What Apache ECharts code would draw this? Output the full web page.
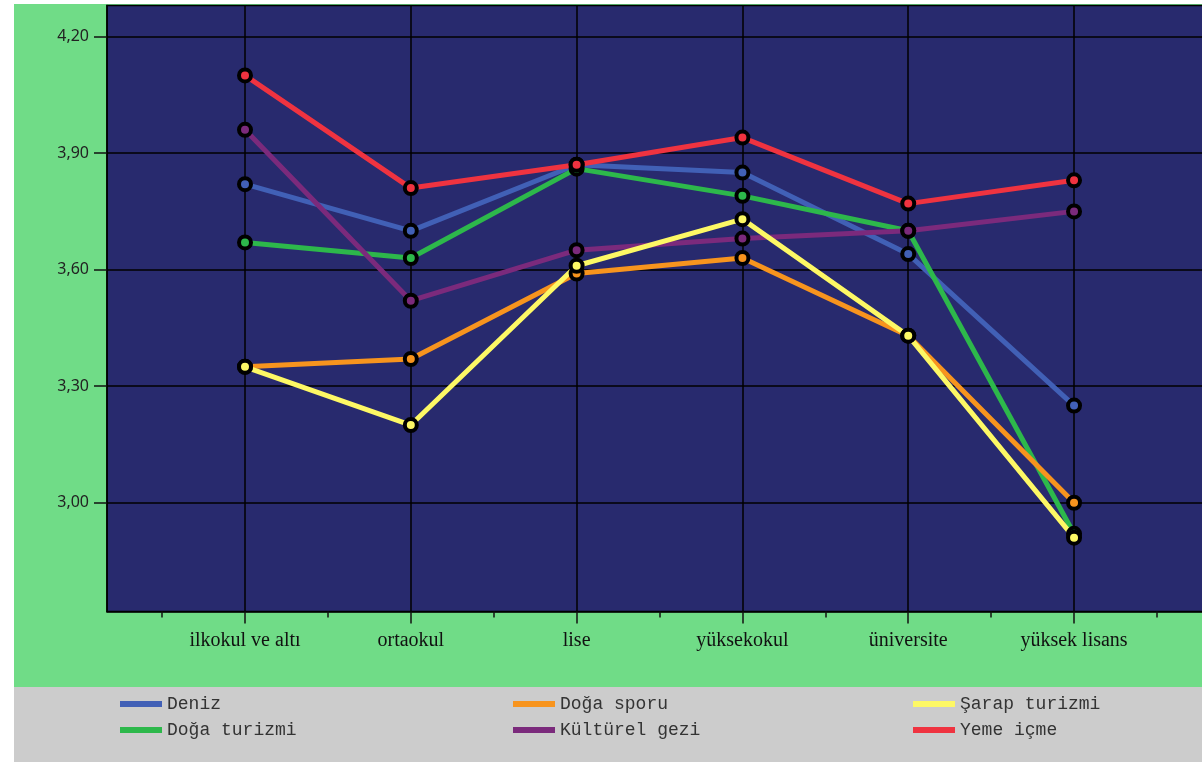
<!DOCTYPE html>
<html>
<head>
<meta charset="utf-8">
<script src="https://cdn.jsdelivr.net/npm/echarts@6/dist/echarts.min.js"></script>
<style>
html,body{margin:0;padding:0;background:#ffffff;overflow:hidden;}
#wrap{position:relative;width:1202px;height:762px;overflow:hidden;background:#ffffff;}
#green{position:absolute;left:14px;top:4px;width:1188px;height:683px;background:#70dc87;}
#gray{position:absolute;left:14px;top:687px;width:1188px;height:75px;background:#cccccc;}
#chart{position:absolute;left:0;top:0;width:1220px;height:762px;}
</style>
</head>
<body>
<div id="wrap">
<div id="green"></div>
<div id="gray"></div>
<div id="chart"></div>
</div>
<script>
// ---- data ----
const categories = ['ilkokul ve altı', 'ortaokul', 'lise', 'yüksekokul', 'üniversite', 'yüksek lisans'];
const yTicks = [3.00, 3.30, 3.60, 3.90, 4.20];
const deniz        = [3.82, 3.70, 3.87, 3.85, 3.64, 3.25];
const dogaTurizmi  = [3.67, 3.63, 3.86, 3.79, 3.70, 2.92];
const dogaSporu    = [3.35, 3.37, 3.59, 3.63, 3.43, 3.00];
const kulturelGezi = [3.96, 3.52, 3.65, 3.68, 3.70, 3.75];
const sarapTurizmi = [3.35, 3.20, 3.61, 3.73, 3.43, 2.91];
const yemeIcme     = [4.10, 3.81, 3.87, 3.94, 3.77, 3.83];

const seriesDefs = [
  {name: 'Deniz', data: deniz, color: '#4160b6'},
  {name: 'Doğa turizmi', data: dogaTurizmi, color: '#2db84b'},
  {name: 'Doğa sporu', data: dogaSporu, color: '#f7941e'},
  {name: 'Kültürel gezi', data: kulturelGezi, color: '#7b2a7c'},
  {name: 'Şarap turizmi', data: sarapTurizmi, color: '#fdf865'},
  {name: 'Yeme içme', data: yemeIcme, color: '#ef3340'}
];

const majorX = categories.map((c, i) => i + 1);
const minorX = [];
for (let i = 0; i <= categories.length; i++) minorX.push(i + 0.5);

const chart = echarts.init(document.getElementById('chart'), null, {renderer: 'canvas'});

const xMin = 0.1677, xMax = 6.820;

const legendCommon = {
  orient: 'vertical',
  top: 695,
  padding: 0,
  icon: 'rect',
  itemWidth: 42,
  itemHeight: 6,
  itemGap: 8,
  itemStyle: {borderWidth: 0},
  textStyle: {fontFamily: 'Liberation Mono', fontSize: 18, color: '#333333'},
  selectedMode: false
};

const option = {
  animation: false,
  backgroundColor: 'transparent',
  grid: {
    left: 107, top: 5.5, right: 10, bottom: 150.5,
    show: true, backgroundColor: '#282a6e', borderColor: '#000000', borderWidth: 1.5,
    containLabel: false
  },
  legend: [
    Object.assign({}, legendCommon, {left: 120, data: ['Deniz', 'Doğa turizmi']}),
    Object.assign({}, legendCommon, {left: 513, data: ['Doğa sporu', 'Kültürel gezi']}),
    Object.assign({}, legendCommon, {left: 913, data: ['Şarap turizmi', 'Yeme içme']})
  ],
  xAxis: [
    {
      type: 'value', min: xMin, max: xMax, position: 'bottom',
      axisLine: {show: true, lineStyle: {color: '#000000', width: 1.5}},
      axisTick: {show: true, customValues: majorX, length: 12, lineStyle: {color: '#111111', width: 1.5}},
      axisLabel: {
        show: true, customValues: majorX, margin: 19,
        fontFamily: 'Liberation Serif', fontSize: 20, color: '#111111',
        formatter: v => categories[Math.round(v) - 1] || ''
      },
      splitLine: {show: true, lineStyle: {color: '#000000', width: 1.5}}
    },
    {
      type: 'value', min: xMin, max: xMax, position: 'bottom',
      axisLine: {show: false},
      axisTick: {show: true, customValues: minorX, length: 6, lineStyle: {color: '#111111', width: 1.5}},
      axisLabel: {show: false},
      splitLine: {show: false}
    }
  ],
  yAxis: {
    type: 'value', min: 2.72, max: 4.28,
    axisLine: {show: true, lineStyle: {color: '#000000', width: 1.5}},
    axisTick: {show: true, customValues: yTicks, length: 13, lineStyle: {color: '#111111', width: 1.5}},
    axisLabel: {
      show: true, customValues: yTicks, margin: 18,
      fontFamily: 'Noto Sans', fontSize: 16, color: '#222222',
      formatter: v => v.toFixed(2).replace('.', ',')
    },
    splitLine: {show: true, lineStyle: {color: '#000000', width: 1.5}}
  },
  series: seriesDefs.map(s => ({
    name: s.name,
    type: 'line',
    xAxisIndex: 0,
    data: s.data.map((v, i) => [majorX[i], v]),
    color: s.color,
    lineStyle: {width: 5, color: s.color},
    symbol: 'circle',
    symbolSize: 12,
    showAllSymbol: true,
    itemStyle: {color: s.color, borderColor: '#000000', borderWidth: 4},
    emphasis: {disabled: true}
  }))
};
chart.setOption(option);
</script>
</body>
</html>
